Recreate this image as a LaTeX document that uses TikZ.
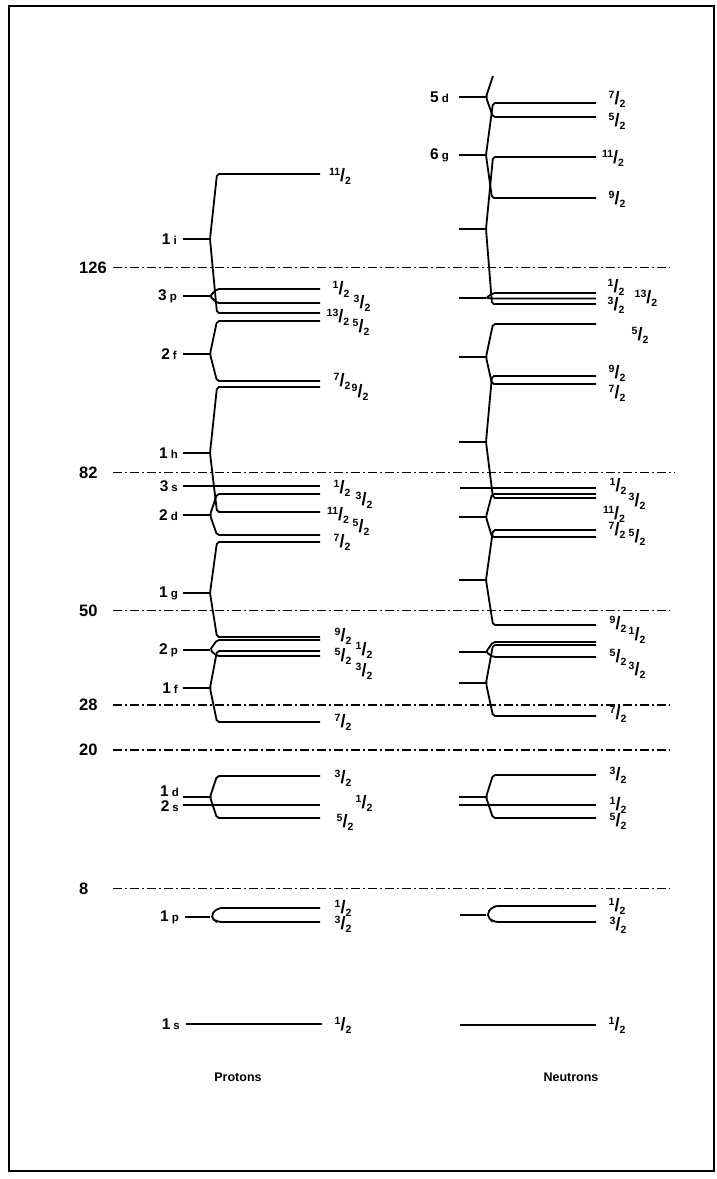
\documentclass[tikz,border=0pt]{standalone}
\usepackage{fontspec}
\setmainfont{Liberation Sans}
\newcommand\jfrac[2]{\raisebox{4.5pt}{#1}\raisebox{-1.5pt}{\fontsize{18}{18}\selectfont/}\raisebox{-4.5pt}{#2}}
\newcommand\orbit[2]{#1\hspace{3pt}{\fontsize{11.5}{11.5}\selectfont #2}}

\begin{document}
\begin{tikzpicture}[x=1pt, y=-1pt,
  lvl/.style={line width=1.8pt, rounded corners=2pt},
  magic/.style={line width=1.7pt, dash pattern=on 9pt off 3pt on 2pt off 3pt},
  frac/.style={font=\fontsize{10.5}{10.5}\selectfont\bfseries, inner sep=0pt},
  orb/.style={font=\fontsize{15.5}{15.5}\selectfont\bfseries, inner sep=0pt, anchor=east},
  num/.style={font=\fontsize{16.5}{16.5}\selectfont\bfseries, inner sep=0pt, anchor=west},
  title/.style={font=\fontsize{12.5}{12.5}\selectfont\bfseries, inner sep=0pt}]
  \useasboundingbox (0,0) rectangle (717,1179);
  \draw[line width=1.8pt] (9,6) rectangle (714,1171);

  % magic numbers
  \foreach \n/\y/\e in {126/267.5/670, 82/472.5/675, 50/610.5/670, 28/705/670, 20/750/670, 8/888.5/670} {
    \node[num] (m\n) at (79,\y) {\n};
    \draw[magic] (113,\y) -- (\e,\y);
  }

  % ---------- protons ----------
  % 1i
  \draw[lvl] (183,239) -- (210,239);
  \draw[lvl] (320,174) -- (217,174) -- (210,239) -- (217,313) -- (320,313);
  % 3p
  \draw[lvl] (183,296) -- (210,296);
  \draw[lvl] (320,289) -- (217,289) -- (210,296) -- (217,303) -- (320,303);
  % 2f
  \draw[lvl] (183,354) -- (210,354);
  \draw[lvl] (320,321) -- (217,321) -- (210,354) -- (217,381) -- (320,381);
  % 1h
  \draw[lvl] (183,453) -- (210,453);
  \draw[lvl] (320,387) -- (217,387) -- (210,453) -- (217,512) -- (320,512);
  % 3s
  \draw[lvl] (183,486) -- (320,486);
  % 2d
  \draw[lvl] (183,515) -- (210,515);
  \draw[lvl] (320,494) -- (217,494) -- (210,515) -- (217,535) -- (320,535);
  % 1g
  \draw[lvl] (183,593) -- (210,593);
  \draw[lvl] (320,542) -- (217,542) -- (210,593) -- (217,637) -- (320,637);
  % 2p
  \draw[lvl] (183,650) -- (210,650);
  \draw[lvl] (320,640) -- (217,640) -- (210,650) -- (217,656) -- (320,656);
  % 1f
  \draw[lvl] (183,688) -- (210,688);
  \draw[lvl] (320,651) -- (217,651) -- (210,688) -- (217,722) -- (320,722);
  % 1d, 2s
  \draw[lvl] (183,797) -- (210,797);
  \draw[lvl] (320,776) -- (217,776) -- (210,797) -- (217,818) -- (320,818);
  \draw[lvl] (183,805) -- (320,805);
  % 1p
  \draw[lvl] (185,917) -- (210,917);
  \draw[lvl, rounded corners=5pt] (320,908) -- (217,908) -- (210,917) -- (217,922) -- (320,922);
  % 1s
  \draw[lvl] (186,1024) -- (322,1024);

  \node[orb] (p1i) at (177,239) {\orbit{1}{i}};
  \node[orb] (p3p) at (177,296) {\orbit{3}{p}};
  \node[orb] (p2f) at (177,354) {\orbit{2}{f}};
  \node[orb] (p1h) at (178,453) {\orbit{1}{h}};
  \node[orb] (p3s) at (178,486) {\orbit{3}{s}};
  \node[orb] (p2d) at (178,515) {\orbit{2}{d}};
  \node[orb] (p1g) at (178,593) {\orbit{1}{g}};
  \node[orb] (p2p) at (178,650) {\orbit{2}{p}};
  \node[orb] (p1f) at (178,688) {\orbit{1}{f}};
  \node[orb] (p1d) at (179,791) {\orbit{1}{d}};
  \node[orb] (p2s) at (179,806) {\orbit{2}{s}};
  \node[orb] (p1p) at (179,917) {\orbit{1}{p}};
  \node[orb] (p1s) at (180,1024) {\orbit{1}{s}};

  \node[frac] (pi11) at (340,176) {\jfrac{11}{2}};
  \node[frac] (pp1) at (341,289) {\jfrac{1}{2}};
  \node[frac] (pp3) at (362,303) {\jfrac{3}{2}};
  \node[frac] (pi13) at (338,317) {\jfrac{13}{2}};
  \node[frac] (pf5) at (361,327) {\jfrac{5}{2}};
  \node[frac] (pf7) at (342,381) {\jfrac{7}{2}};
  \node[frac] (ph9) at (360,392) {\jfrac{9}{2}};
  \node[frac] (ps1) at (342,488) {\jfrac{1}{2}};
  \node[frac] (pd3) at (364,500) {\jfrac{3}{2}};
  \node[frac] (ph11) at (338,515) {\jfrac{11}{2}};
  \node[frac] (pd5) at (361,527) {\jfrac{5}{2}};
  \node[frac] (pg7) at (342,542) {\jfrac{7}{2}};
  \node[frac] (pg9) at (343,636) {\jfrac{9}{2}};
  \node[frac] (pp1b) at (364,650) {\jfrac{1}{2}};
  \node[frac] (pf5b) at (343,656) {\jfrac{5}{2}};
  \node[frac] (pp3b) at (364,671) {\jfrac{3}{2}};
  \node[frac] (pf7b) at (343,722) {\jfrac{7}{2}};
  \node[frac] (pd3b) at (343,778) {\jfrac{3}{2}};
  \node[frac] (ps1b) at (364,803) {\jfrac{1}{2}};
  \node[frac] (pd5b) at (345,822) {\jfrac{5}{2}};
  \node[frac] (pp1c) at (343,908) {\jfrac{1}{2}};
  \node[frac] (pp3c) at (343,924) {\jfrac{3}{2}};
  \node[frac] (ps1c) at (343,1025) {\jfrac{1}{2}};

  % ---------- neutrons ----------
  % 5d
  \draw[lvl] (459,97) -- (486,97);
  \draw[lvl] (493,76) -- (486,97) -- (493,117) -- (596,117);
  % 6g
  \draw[lvl] (459,155) -- (486,155);
  \draw[lvl] (596,103) -- (493,103) -- (486,155) -- (492,198) -- (596,198);
  % 1i
  \draw[lvl] (459,229) -- (486,229);
  \draw[lvl] (596,157) -- (493,157) -- (486,229) -- (492,304) -- (596,304);
  % 3p
  \draw[lvl] (459,298) -- (486,298);
  \draw[lvl] (596,293) -- (493,293) -- (486,298) -- (493,298.5) -- (596,298.5);
  % 2f
  \draw[lvl] (459,357) -- (486,357);
  \draw[lvl] (596,324) -- (493,324) -- (486,357) -- (492,384) -- (596,384);
  % 1h
  \draw[lvl] (459,442) -- (486,442);
  \draw[lvl] (596,376) -- (492,376) -- (486,442) -- (493,498) -- (596,498);
  % 3s
  \draw[lvl] (460,488) -- (596,488);
  % 2d
  \draw[lvl] (459,517) -- (486,517);
  \draw[lvl] (596,494) -- (492,494) -- (486,517) -- (492,537) -- (596,537);
  % 1g
  \draw[lvl] (459,580) -- (486,580);
  \draw[lvl] (596,530) -- (493,530) -- (486,580) -- (493,625) -- (596,625);
  % 2p
  \draw[lvl] (459,652) -- (486,652);
  \draw[lvl] (596,642) -- (493,642) -- (486,652) -- (493,657) -- (596,657);
  % 1f
  \draw[lvl] (459,683) -- (486,683);
  \draw[lvl] (596,645) -- (493,645) -- (486,683) -- (493,716) -- (596,716);
  % 1d, 2s
  \draw[lvl] (459,797) -- (486,797);
  \draw[lvl] (596,775) -- (493,775) -- (486,797) -- (493,818) -- (596,818);
  \draw[lvl] (459,805) -- (596,805);
  % 1p
  \draw[lvl] (460,915) -- (486,915);
  \draw[lvl, rounded corners=5pt] (596,906) -- (493,906) -- (486,915) -- (493,922) -- (596,922);
  % 1s
  \draw[lvl] (460,1025) -- (596,1025);

  \node[orb] (n5d) at (449,97) {\orbit{5}{d}};
  \node[orb] (n6g) at (449,155) {\orbit{6}{g}};

  \node[frac] (ng7) at (617,99) {\jfrac{7}{2}};
  \node[frac] (nd5) at (617,121) {\jfrac{5}{2}};
  \node[frac] (ni11) at (613,158) {\jfrac{11}{2}};
  \node[frac] (ng9) at (617,199) {\jfrac{9}{2}};
  \node[frac] (np1) at (616,287) {\jfrac{1}{2}};
  \node[frac] (np3) at (616,305) {\jfrac{3}{2}};
  \node[frac] (ni13) at (646,298) {\jfrac{13}{2}};
  \node[frac] (nf5) at (640,335) {\jfrac{5}{2}};
  \node[frac] (nh9) at (617,373) {\jfrac{9}{2}};
  \node[frac] (nf7) at (617,393) {\jfrac{7}{2}};
  \node[frac] (ns1) at (618,486) {\jfrac{1}{2}};
  \node[frac] (nd3) at (637,501) {\jfrac{3}{2}};
  \node[frac] (nh11) at (614,514) {\jfrac{11}{2}};
  \node[frac] (ng7b) at (617,530) {\jfrac{7}{2}};
  \node[frac] (nd5b) at (637,537) {\jfrac{5}{2}};
  \node[frac] (ng9b) at (618,624) {\jfrac{9}{2}};
  \node[frac] (np1b) at (637,635) {\jfrac{1}{2}};
  \node[frac] (nf5b) at (618,657) {\jfrac{5}{2}};
  \node[frac] (np3b) at (637,670) {\jfrac{3}{2}};
  \node[frac] (nf7b) at (618,714) {\jfrac{7}{2}};
  \node[frac] (nd3b) at (618,775) {\jfrac{3}{2}};
  \node[frac] (ns1b) at (618,805) {\jfrac{1}{2}};
  \node[frac] (nd5c) at (618,821) {\jfrac{5}{2}};
  \node[frac] (np1c) at (617,906) {\jfrac{1}{2}};
  \node[frac] (np3c) at (618,925) {\jfrac{3}{2}};
  \node[frac] (ns1c) at (617,1025) {\jfrac{1}{2}};

  \node[title] (prot) at (238,1077) {Protons};
  \node[title] (neut) at (571,1077) {Neutrons};
\end{tikzpicture}
\end{document}
